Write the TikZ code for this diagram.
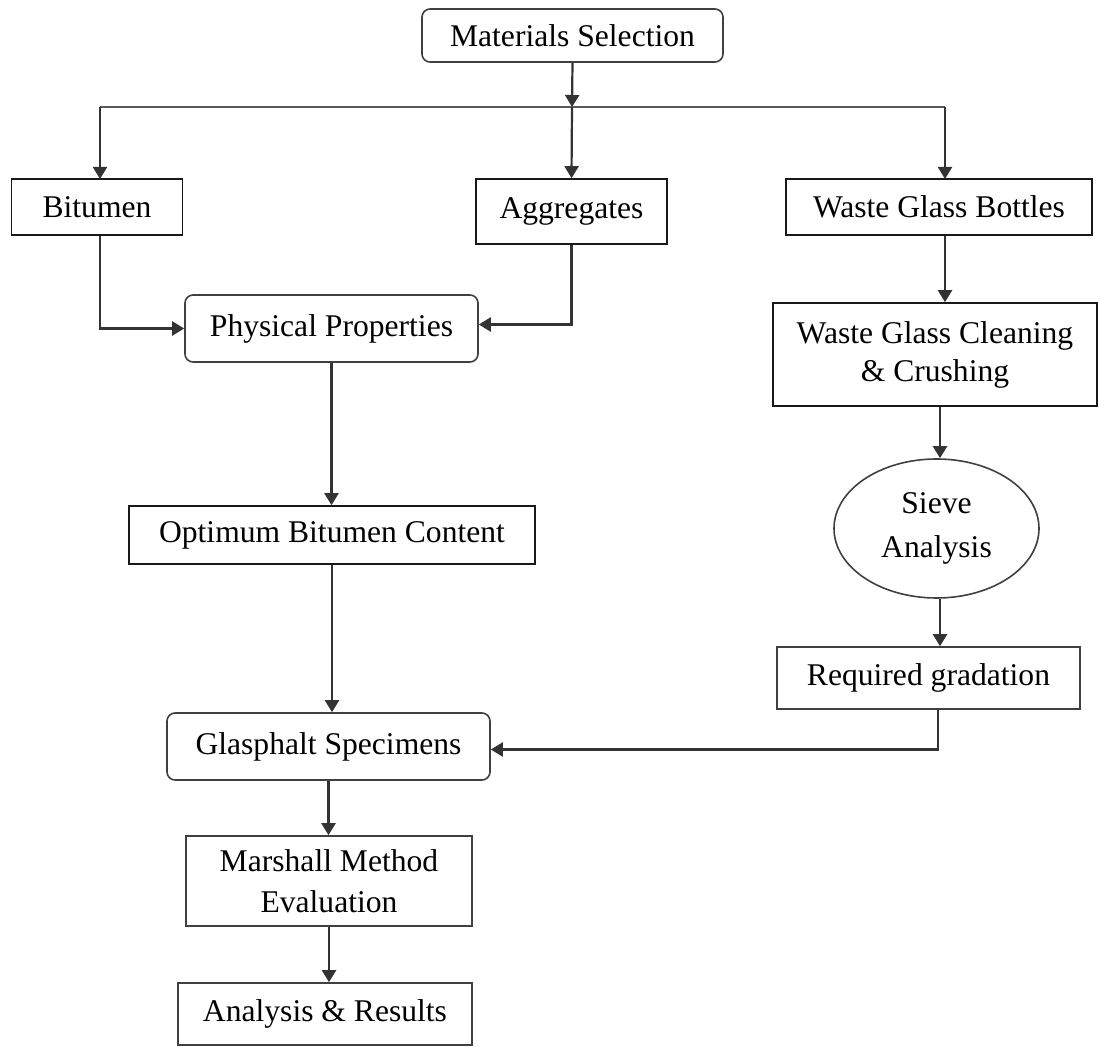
\documentclass[tikz,border=0pt]{standalone}
\usepackage{fontspec}
\setmainfont{Liberation Serif}
\usetikzlibrary{shapes.geometric, arrows.meta, positioning, calc}

\begin{document}
\begin{tikzpicture}[
      x=0.5pt, y=-0.5pt,
      every node/.style={draw=black!90, line width=0.8pt, rectangle, align=center, inner sep=2pt, fill=white,
        font=\fontsize{15.8}{19}\selectfont},
      rbox/.style={rounded corners=4pt, draw=black!75},
      arrow/.style={-{Triangle[length=6pt, width=7pt]}, line width=1.1pt, draw=black!80},
      link/.style={line width=1.1pt, draw=black!65}
    ]
      \useasboundingbox (0,0) rectangle (1099,1047);

      % Node 1: Start
      \node (matsel) [rbox, minimum width=150.5pt, minimum height=26.5pt] at (572.5,35.5) {Materials Selection};

      % Node 2: the three materials
      \node (bitumen) [minimum width=85.5pt, minimum height=28pt] at (97,207) {Bitumen};
      \node (aggr) [minimum width=95.5pt, minimum height=32.5pt] at (571.5,211.5) {Aggregates};
      \node (bottles) [minimum width=153pt, minimum height=28pt] at (939,207) {Waste Glass Bottles};

      % Left branch
      \node (physprop) [rbox, minimum width=146.5pt, minimum height=33.5pt] at (331.5,328.5) {Physical Properties};
      \node (obc) [minimum width=203pt, minimum height=29pt] at (332,535) {Optimum Bitumen Content};

      % Right branch
      \node (cleaning) [minimum width=162pt, minimum height=51.5pt] at (935,354.5) {Waste Glass Cleaning\\\& Crushing};
      \node (sieve) [ellipse, draw=black!75, inner sep=0pt, minimum width=102.5pt, minimum height=69.5pt,
        font=\fontsize{15.8}{22}\selectfont] at (936.5,528.5) {Sieve\\Analysis};
      \node (gradation) [draw=black!75, minimum width=151.5pt, minimum height=31pt] at (928.5,678) {Required gradation};

      % Bottom part
      \node (specimens) [rbox, minimum width=161.5pt, minimum height=33.5pt] at (328.5,746.5) {Glasphalt Specimens};
      \node (marshall) [draw=black!75, minimum width=143pt, minimum height=45pt,
        font=\fontsize{15.8}{20.5}\selectfont] at (329,881) {Marshall Method\\Evaluation};
      \node (results) [draw=black!75, minimum width=147pt, minimum height=31pt] at (325,1014) {Analysis \& Results};

      % Connectors
      \coordinate (bus) at (572,107);
      \draw[arrow] (matsel.south) -- (bus);
      \draw[link] (100,107) -- (945,107);
      \draw[arrow] (100,107) -- (100,179);
      \draw[arrow] (bus) -- (aggr.north);
      \draw[arrow] (945,107) -- (945,179);

      \draw[arrow] (bitumen.south -| 100,0) |- (physprop.west);
      \draw[arrow] (aggr.south) |- ([yshift=2pt]physprop.east);
      \draw[arrow] (physprop.south) -- (physprop.south |- obc.north);
      \draw[arrow] (obc.south) -- (obc.south |- specimens.north);

      \draw[arrow] (bottles.south -| 945,0) -- (cleaning.north -| 945,0);
      \draw[arrow] (cleaning.south -| 940,0) -- (sieve.north -| 940,0);
      \draw[arrow] (sieve.south -| 940,0) -- (gradation.north -| 940,0);
      \draw[arrow] (gradation.south -| 938,0) |- ([yshift=-1.5pt]specimens.east);

      \draw[arrow] (specimens.south) -- (specimens.south |- marshall.north);
      \draw[arrow] (marshall.south) -- (marshall.south |- results.north);
    \end{tikzpicture}
\end{document}
